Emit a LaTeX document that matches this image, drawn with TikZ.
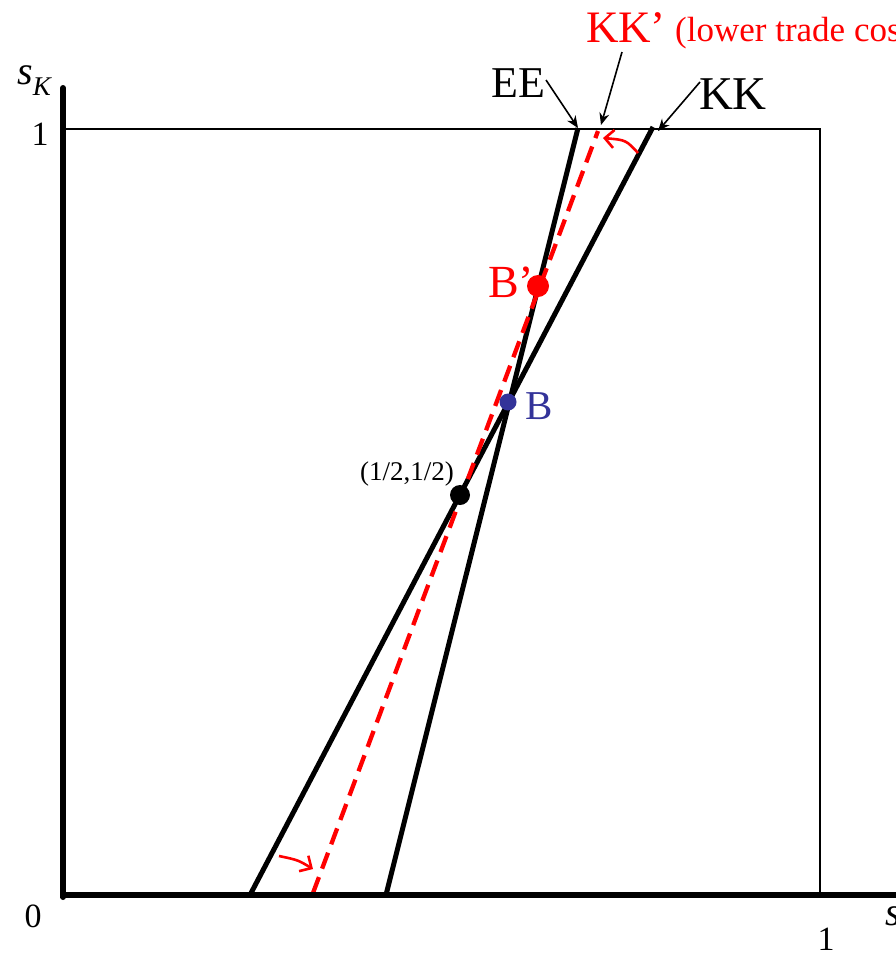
\documentclass[tikz,border=0pt]{standalone}
\usepackage{fontspec}
\setmainfont{Liberation Serif}
\usetikzlibrary{arrows.meta}
\definecolor{bblue}{RGB}{51,51,153}
\definecolor{kred}{RGB}{255,0,0}
\tikzset{
  axisline/.style={line width=6pt},
  boxline/.style={line width=1.2pt},
  curve/.style={line width=5pt},
  redcurve/.style={line width=4.3pt, kred, dash pattern=on 17pt off 9pt},
  pointer/.style={line width=1.6pt, -{Stealth[length=12pt,width=10pt]}},
  shiftarrow/.style={line width=2.6pt, kred, -{Straight Barb[length=9pt,width=18pt]}},
  dot/.style={circle, inner sep=0pt, minimum size=#1},
  lbl/.style={inner sep=0pt, font=\fontsize{#1}{#1}\selectfont},
}
\begin{document}
\begin{tikzpicture}[x=1pt,y=-1pt]
\useasboundingbox (0,0) rectangle (896,954);
% coordinates
\coordinate (O) at (63,895);
\coordinate (ytop) at (63,88);
\coordinate (xend) at (900,895);
\coordinate (TL) at (63,129);
\coordinate (TR) at (820,129);
\coordinate (BR) at (820,895);
\coordinate (EEtop) at (578,128);
\coordinate (EEbot) at (386,895);
\coordinate (KKtop) at (653,127);
\coordinate (KKbot) at (250,895);
\coordinate (KPtop) at (598,131);
\coordinate (KPbot) at (313,893);
% box
\draw[boxline] (TL) -- (TR) -- (BR);
% curves
\draw[curve] (EEbot) -- (EEtop);
\draw[curve] (KKbot) -- (KKtop);
\draw[redcurve] (KPbot) -- (KPtop);
% axes
\draw[axisline, line cap=round] (ytop) -- (63,897);
\draw[axisline] (60,895) -- (xend);
% dots
\node[dot=22pt, fill=kred] (Bp) at (538,286) {};
\node[dot=17pt, fill=bblue] (B) at (508,402) {};
\node[dot=20pt, fill=black] (H) at (460,495) {};
% labels
\node[lbl=46, kred] (Bplbl) at (511,282) {B’};
\node[lbl=41, bblue] (Blbl) at (539,406) {B};
\node[lbl=27] (Hlbl) at (407,474) {(1/2,1/2)};
\node[lbl=44] (EElbl) at (518,83) {EE};
\node[lbl=47] (KKlbl) at (733,94) {KK};
\node[lbl=45, kred] (KPlbl) at (626,28) {KK’};
\node[lbl=35, kred, anchor=west] (KPnote) at (675,33) {(lower trade costs)};
\node[lbl=34] (one) at (40,134) {1};
\node[lbl=34] (zero) at (33,916) {0};
\node[lbl=34, anchor=north] (onex) at (826,928) {1};
\node[lbl=40, anchor=west] (sE) at (885,916) {\textit{s}};
\node[lbl=40, anchor=base west] (sK) at (17,84) {\textit{s}\raisebox{-0.28em}{\fontsize{27}{27}\selectfont\textit{K}}};
% pointers
\draw[pointer] (546,80) -- (EEtop);
\draw[pointer] (622,52) -- (601,125);
\draw[pointer] (700,82) -- ([xshift=5pt,yshift=-4pt]KKtop);
% shift arrows
\draw[shiftarrow] (638,153) .. controls (626,140) .. (603,138);
\draw[shiftarrow] (279,856) .. controls (298,860) .. (313,869);
\end{tikzpicture}
\end{document}
